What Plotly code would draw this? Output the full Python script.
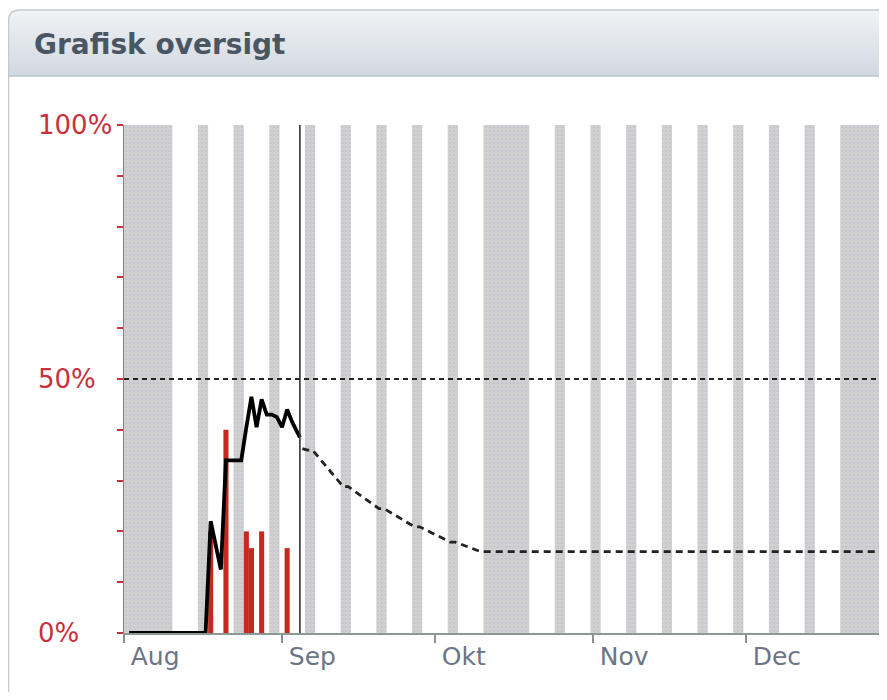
import pandas as pd
import plotly.graph_objects as go

# ---------------- data ----------------
actual_dates = [d.strftime("%Y-%m-%d") for d in pd.date_range("2014-08-02", "2014-09-03")] + ["2014-09-04 12:00"]
actual_values = [0, 0, 0, 0, 0, 0, 0, 0, 0, 0, 0, 0, 0, 0, 0, 0,
                 22, 17, 12.5, 34, 34, 34, 34, 40.5, 46.5, 40.5, 46, 43, 43, 42.5,
                 40.5, 44, 41.5, 38.5]

bar_dates = ["2014-08-18", "2014-08-21", "2014-08-25", "2014-08-26", "2014-08-28", "2014-09-02"]
bar_values = [20, 40, 20, 16.7, 20, 16.7]

proj_dates = ["2014-09-05", "2014-09-06", "2014-09-07", "2014-09-13", "2014-09-14",
              "2014-09-20", "2014-09-21", "2014-09-27", "2014-09-28", "2014-10-04",
              "2014-10-05", "2014-10-10", "2014-12-31"]
proj_values = [36.3, 36, 36, 28.8, 28.8, 24.5, 24.5, 20.9, 20.9, 17.9, 17.9, 16.0, 16.0]

today = "2014-09-04 12:00"
target_value = 50

holidays = [("2014-07-31", "2014-08-10"), ("2014-10-11", "2014-10-19"), ("2014-12-20", "2015-01-04")]

month_ticks = ["2014-08-01", "2014-09-01", "2014-10-01", "2014-11-01", "2014-12-01"]
month_labels = ["Aug", "Sep", "Okt", "Nov", "Dec"]

y_labels = [0, 50, 100]
title = "Grafisk oversigt"

# ---------------- off-days bands (weekends + holidays) ----------------
days = pd.date_range("2014-07-31", "2015-01-04")
off = set(d for d in days if d.weekday() >= 5)
for a, b in holidays:
    off |= set(pd.date_range(a, b))
off = sorted(off)
runs = []
for d in off:
    if runs and (d - runs[-1][-1]).days == 1:
        runs[-1].append(d)
    else:
        runs.append([d])
DAY_MS = 86400000
band_x = [r[0] + (r[-1] - r[0]) / 2 for r in runs]
band_w = [len(r) * DAY_MS for r in runs]

# ---------------- geometry (page has an 8px body margin) ----------------
OFF = 8
W, H = 887 - OFF, 700 - 2 * OFF
L, T = 124 - OFF, 125 - OFF
R, B = 0, H - (633 - OFF)
PW, PH = W - L - R, H - T - B


def px(x):  # screen pixel -> paper
    return (x - OFF - L) / PW


def py(y):
    return (H - B - (y - OFF)) / PH


RED = "#c8303c"
fig = go.Figure()

fig.add_trace(go.Bar(
    x=band_x, y=[100] * len(band_x), width=band_w,
    marker=dict(color="#cfd1ce", line=dict(width=0),
                pattern=dict(shape=".", fgcolor="#c6b4d4", size=4, solidity=0.28)),
    hoverinfo="skip", showlegend=False))

fig.add_trace(go.Bar(
    x=bar_dates, y=bar_values, width=DAY_MS,
    marker=dict(color="#c4281f", line=dict(width=0)),
    showlegend=False))

fig.add_trace(go.Scatter(
    x=proj_dates, y=proj_values, mode="lines",
    line=dict(color="#222222", width=2.8, dash="7px,5px"),
    showlegend=False))

fig.add_trace(go.Scatter(
    x=actual_dates, y=actual_values, mode="lines",
    line=dict(color="#000000", width=3.8),
    showlegend=False))

shapes = []
# header gradient
top_c = (0xf0, 0xf2, 0xf5)
bot_c = (0xd1, 0xd9, 0xe0)
hy0, hy1 = 10, 76
n = 22
for i in range(n):
    t = i / (n - 1)
    c = tuple(int(round(top_c[k] + (bot_c[k] - top_c[k]) * t)) for k in range(3))
    y0 = hy0 + (hy1 - hy0) * i / n
    y1 = hy0 + (hy1 - hy0) * (i + 1) / n + 0.6
    shapes.append(dict(type="rect", xref="paper", yref="paper",
                       x0=px(8.5), x1=px(887), y0=py(min(y1, hy1)), y1=py(y0),
                       fillcolor="rgb(%d,%d,%d)" % c, line=dict(width=0), layer="below"))
# rounded corner mask
r = 11
shapes.append(dict(type="path", xref="paper", yref="paper",
                   path="M %f,%f L %f,%f Q %f,%f %f,%f Z" % (px(7), py(hy0 - 1), px(8.5 + r), py(hy0 - 1),
                                                            px(8.5), py(hy0), px(8.5), py(hy0 + r)),
                   fillcolor="white", line=dict(width=0), layer="below"))
# panel border
shapes.append(dict(type="path", xref="paper", yref="paper",
                   path="M %f,%f L %f,%f Q %f,%f %f,%f L %f,%f" % (px(8.5), py(700), px(8.5), py(hy0 + r),
                                                                  px(8.5), py(hy0), px(8.5 + r), py(hy0),
                                                                  px(887), py(hy0)),
                   line=dict(color="#c3cbd1", width=1.5), layer="below"))
shapes.append(dict(type="line", xref="paper", yref="paper", x0=px(8.5), x1=px(887),
                   y0=py(hy1), y1=py(hy1), line=dict(color="#b9c3cb", width=1.5), layer="below"))
# 50% target line
shapes.append(dict(type="line", xref="paper", yref="y", x0=0, x1=1, y0=target_value, y1=target_value,
                   line=dict(color="#222222", width=1.8, dash="5px,4px"), layer="above"))
# today line
shapes.append(dict(type="line", xref="x", yref="paper", x0=today, x1=today, y0=0, y1=1,
                   line=dict(color="#333333", width=1.6), layer="above"))

annotations = [dict(text="<b>%s</b>" % title, xref="paper", yref="paper", x=px(32), y=py(44),
                    xanchor="left", yanchor="middle", showarrow=False,
                    font=dict(family="DejaVu Sans", size=28, color="#4a5664"))]
for v in y_labels:
    annotations.append(dict(text="%d%%" % v, xref="paper", yref="y", x=px(36), y=v,
                            xanchor="left", yanchor="middle", showarrow=False,
                            font=dict(family="DejaVu Sans", size=26, color=RED)))

fig.update_layout(
    width=W, height=H,
    margin=dict(l=L, r=R, t=T, b=B, pad=0),
    paper_bgcolor="white", plot_bgcolor="white",
    barmode="overlay", showlegend=False, hovermode=False,
    shapes=shapes, annotations=annotations,
    xaxis=dict(type="date", range=["2014-08-01", "2014-12-28 16:00"],
               tickvals=month_ticks, ticktext=month_labels,
               ticks="outside", ticklen=8, tickwidth=1.5, tickcolor="#8a8f94",
               ticklabelposition="outside right", ticklabelshift=5, ticklabelstandoff=0,
               tickfont=dict(family="DejaVu Sans", size=25, color="#6c7585"),
               showline=True, linecolor="#8a9898", linewidth=2,
               showgrid=False, zeroline=False, fixedrange=True),
    yaxis=dict(range=[0, 100], dtick=10, showticklabels=False,
               ticks="outside", ticklen=6, tickwidth=2, tickcolor=RED,
               showline=True, linecolor="#7c8484", linewidth=1.5,
               showgrid=False, zeroline=False, fixedrange=True),
)

fig.write_html("out.html", config={"displayModeBar": False, "staticPlot": True})
